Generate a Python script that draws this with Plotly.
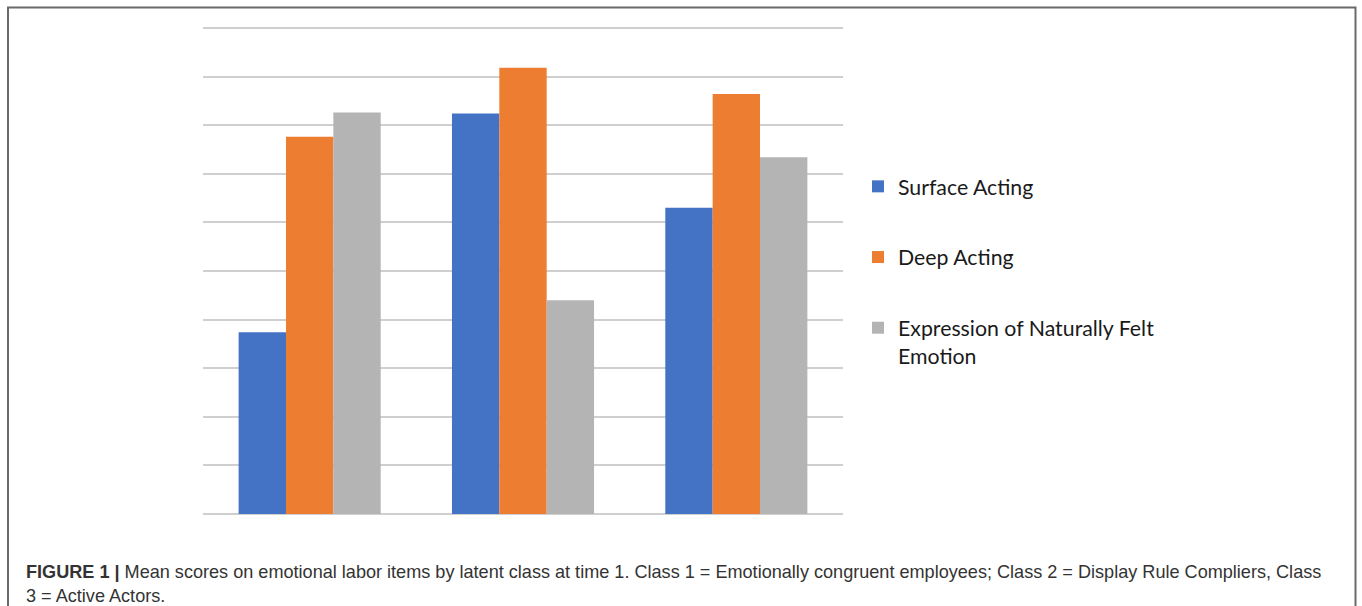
import plotly.graph_objects as go

# Mean scores by latent class (time 1)
classes = ["Class 1", "Class 2", "Class 3"]
surface_acting = [1.87, 4.12, 3.15]
deep_acting = [3.88, 4.59, 4.32]
natural_emotion = [4.13, 2.20, 3.67]

series_names = ["Surface Acting", "Deep Acting", "Expression of Naturally Felt<br>Emotion"]
series_colors = ["#4472C4", "#ED7D31", "#B4B4B4"]

W, H = 1362, 606
L, R, T, B = 203, 519, 26, 92
plot_w = W - L - R
plot_h = H - T - B


def px_x(px):
    return (px - L) / plot_w


def px_y(py):
    return (H - B - py) / plot_h


fig = go.Figure()
for i, (name, vals, col) in enumerate(zip(series_names, [surface_acting, deep_acting, natural_emotion], series_colors)):
    fig.add_trace(go.Bar(
        x=classes, y=vals, name=name,
        marker=dict(color=col, line=dict(width=0)),
        legendgroup=f"g{i}",
        hoverinfo="skip",
    ))

fig.update_layout(
    template="none",
    width=W, height=H,
    margin=dict(l=L, r=R, t=T, b=B, pad=0),
    paper_bgcolor="white",
    plot_bgcolor="white",
    barmode="group",
    bargap=0.334,
    bargroupgap=0,
    showlegend=True,
    legend=dict(
        x=px_x(858), y=px_y(166), xanchor="left", yanchor="top",
        font=dict(family="Lato, Open Sans, sans-serif", size=21.3, color="#1a1a1a"),
        tracegroupgap=40,
        valign="top",
        bgcolor="rgba(0,0,0,0)",
        itemclick=False,
    ),
    xaxis=dict(
        showticklabels=False, showgrid=False, zeroline=False, showline=False,
        ticks="",
    ),
    yaxis=dict(
        range=[0, 5.02], dtick=0.5, tick0=0,
        showticklabels=False, ticks="",
        showgrid=True, gridcolor="#CFCFCF", gridwidth=1.5,
        zeroline=True, zerolinecolor="#CFCFCF", zerolinewidth=1.5,
        showline=False,
    ),
    font=dict(family="Liberation Sans, Arial, sans-serif"),
)

# outer frame around the figure panel
fig.add_shape(
    type="rect", xref="paper", yref="paper",
    x0=px_x(8), x1=px_x(1355.5), y0=px_y(640), y1=px_y(7.5),
    line=dict(color="#6A6A6A", width=2), fillcolor="rgba(0,0,0,0)", layer="above",
)

caption = (
    "<b>FIGURE 1 |</b> Mean scores on emotional labor items by latent class at time 1. "
    "Class 1 = Emotionally congruent employees; Class 2 = Display Rule Compliers, Class"
    "<br>3 = Active Actors."
)
fig.add_annotation(
    text=caption, xref="paper", yref="paper",
    x=px_x(24), y=px_y(559.5), xanchor="left", yanchor="top",
    showarrow=False, align="left",
    font=dict(family="Liberation Sans, Arial, sans-serif", size=18.1, color="#333333"),
)

fig.write_html("out.html")
